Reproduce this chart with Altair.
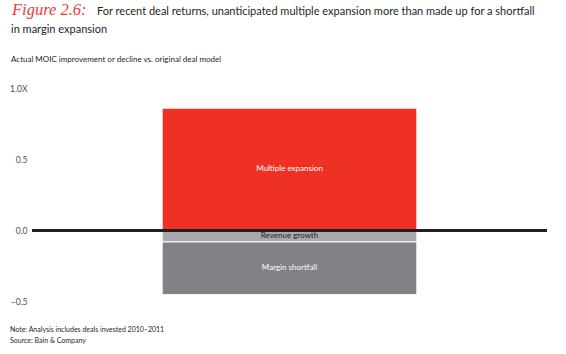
import altair as alt
import pandas as pd

# ---- data ----
segments = ["Multiple expansion", "Revenue growth", "Margin shortfall"]
values = [0.86, -0.08, -0.37]
seg_colors = ["#ef3125", "#a7a9ac", "#808285"]
label_colors = ["#ffffff", "#231f20", "#ffffff"]
category = ["Deals"]
tick_values = [-0.5, 0.0, 0.5, 1.0]

title_fig = "Figure 2.6:"
title_l1 = "For recent deal returns, unanticipated multiple expansion more than made up for a shortfall"
title_l2 = "in margin expansion"
subtitle = "Actual MOIC improvement or decline vs. original deal model"
note = "Note: Analysis includes deals invested 2010\u20132011"
source = "Source: Bain & Company"

# build stacked start/end (positives up from 0, negatives down from 0)
rows = []
pos, neg = 0.0, 0.0
for s, v, c, lc in zip(segments, values, seg_colors, label_colors):
    if v >= 0:
        start, end = pos, pos + v
        pos = end
    else:
        start, end = neg, neg + v
        neg = end
    rows.append({"cat": category[0], "segment": s, "start": start, "end": end,
                 "mid": (start + end) / 2, "color": c, "lcolor": lc})
df = pd.DataFrame(rows)

FONT = "Lato"

xscale = alt.Scale(paddingInner=0, paddingOuter=0.511)
yscale = alt.Scale(domain=[-0.6, 1.1], nice=False, zero=False)

base = alt.Chart(df)

bars = base.mark_bar(stroke="white", strokeWidth=1).encode(
    x=alt.X("cat:N", scale=xscale, axis=None),
    y=alt.Y("start:Q", scale=yscale,
            axis=alt.Axis(values=tick_values, title=None, grid=False, ticks=False,
                          domain=False, labelPadding=5, labelFontSize=8.5,
                          labelColor="#4d4d4d", labelFont=FONT,
                          labelExpr="datum.value == 1 ? '1.0X' : (datum.value < 0 ? '\u2013' + format(-datum.value, '.1f') : format(datum.value, '.1f'))")),
    y2="end:Q",
    color=alt.Color("color:N", scale=None, legend=None),
)

labels = base.mark_text(fontSize=8, font=FONT, align="center", baseline="middle").encode(
    x=alt.X("cat:N", scale=xscale, axis=None),
    y=alt.Y("mid:Q", scale=yscale),
    text="segment:N",
    color=alt.Color("lcolor:N", scale=None, legend=None),
)

zero = alt.Chart(pd.DataFrame({"z": [0.0]})).mark_rule(color="#231f20", strokeWidth=3).encode(
    y=alt.Y("z:Q", scale=yscale)
)


def text_layer(txt, x, y, size, color="#231f20", font=FONT, style="normal"):
    return alt.Chart(pd.DataFrame({"t": [txt]})).mark_text(
        align="left", baseline="alphabetic", fontSize=size, font=font,
        color=color, fontStyle=style
    ).encode(text="t:N", x=alt.value(x), y=alt.value(y))


texts = [
    text_layer(title_fig, -20, -59, 16.5, color="#ea3a3a", font="Liberation Serif", style="italic"),
    text_layer(title_l1, 65, -59, 11),
    text_layer(title_l2, -21, -41.5, 11),
    text_layer(subtitle, -21, -12, 8),
    text_layer(note, -22, 258, 7),
    text_layer(source, -22, 269, 7),
]

chart = alt.layer(bars, zero, labels, *texts).properties(
    width=515, height=242,
    autosize=alt.AutoSizeParams(type="none"),
    padding={"left": 32, "top": 74, "right": 19, "bottom": 38},
    background="white",
).configure_view(strokeWidth=0)

chart.save("out.html", embed_options={"renderer": "svg", "actions": False})
